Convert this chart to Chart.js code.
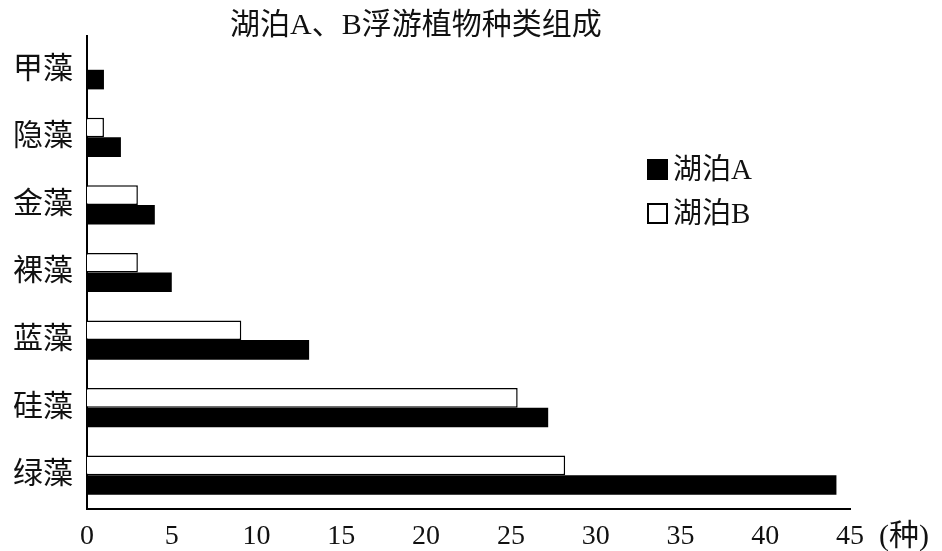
<!DOCTYPE html>
<html>
<head>
<meta charset="utf-8">
<script src="https://cdn.jsdelivr.net/npm/chart.js@4.4.0/dist/chart.umd.min.js"></script>
<style>
  html, body { margin: 0; padding: 0; background: #fff; }
  #wrap { position: relative; width: 942px; height: 551px; }
  #chart { position: absolute; left: 0; top: 0; }
  .txt { position: absolute; font-family: "Liberation Serif", "Noto Sans CJK SC", serif; color: #111; white-space: nowrap; }
  #title { left: 230px; top: 5px; font-size: 30px; line-height: 38px; }
  #unit { left: 879px; top: 516px; font-size: 30px; line-height: 38px; }
  .leg { left: 647px; font-size: 29px; line-height: 32px; display: flex; align-items: center; }
  .box { width: 21px; height: 21px; margin-right: 5px; box-sizing: border-box; border: 2px solid #000; }
</style>
</head>
<body>
<div id="wrap">
  <canvas id="chart" width="942" height="551"></canvas>
  <div class="txt" id="title">湖泊A、B浮游植物种类组成</div>
  <div class="txt leg" style="top:153px"><span class="box" style="background:#000"></span>湖泊A</div>
  <div class="txt leg" style="top:197px"><span class="box" style="background:#fff"></span>湖泊B</div>
  <div class="txt" id="unit">(种)</div>
</div>
<script>
// categories and species counts
const groups = ['甲藻', '隐藻', '金藻', '裸藻', '蓝藻', '硅藻', '绿藻'];
const lakeA = [1, 2, 4, 5, 13.1, 27.2, 44.2];
const lakeB = [0, 1, 3, 3, 9.1, 25.4, 28.2];
const xTicks = [0, 5, 10, 15, 20, 25, 30, 35, 40, 45];

const fontFamily = '"Liberation Serif", "Noto Sans CJK SC", serif';

new Chart(document.getElementById('chart'), {
    type: 'bar',
    data: {
        labels: groups,
        datasets: [
            {
                label: '湖泊B',
                data: lakeB,
                backgroundColor: '#fff',
                borderColor: '#000',
                borderWidth: 1.5,
                borderSkipped: 'start'
            },
            {
                label: '湖泊A',
                data: lakeA,
                backgroundColor: '#000',
                borderColor: '#000',
                borderWidth: 0
            }
        ]
    },
    options: {
        indexAxis: 'y',
        responsive: false,
        animation: false,
        layout: { padding: { left: 0, right: 92, top: 36, bottom: 0 } },
        datasets: { bar: { barPercentage: 1, categoryPercentage: 0.58 } },
        plugins: {
            legend: { display: false },
            title: { display: false },
            tooltip: { enabled: false }
        },
        scales: {
            x: {
                min: 0,
                max: 45,
                afterBuildTicks: (scale) => { scale.ticks = xTicks.map(v => ({ value: v })); },
                afterFit: (scale) => { scale.height = 42; },
                grid: { display: false, drawTicks: false },
                border: { display: true, color: '#000', width: 2 },
                ticks: {
                    color: '#111',
                    padding: 11,
                    font: { family: fontFamily, size: 28 }
                }
            },
            y: {
                afterFit: (scale) => { scale.width = 87; },
                grid: { display: false, drawTicks: false },
                border: { display: true, color: '#000', width: 2 },
                ticks: {
                    color: '#111',
                    padding: 14,
                    font: { family: fontFamily, size: 30 }
                }
            }
        }
    }
});
</script>
</body>
</html>
